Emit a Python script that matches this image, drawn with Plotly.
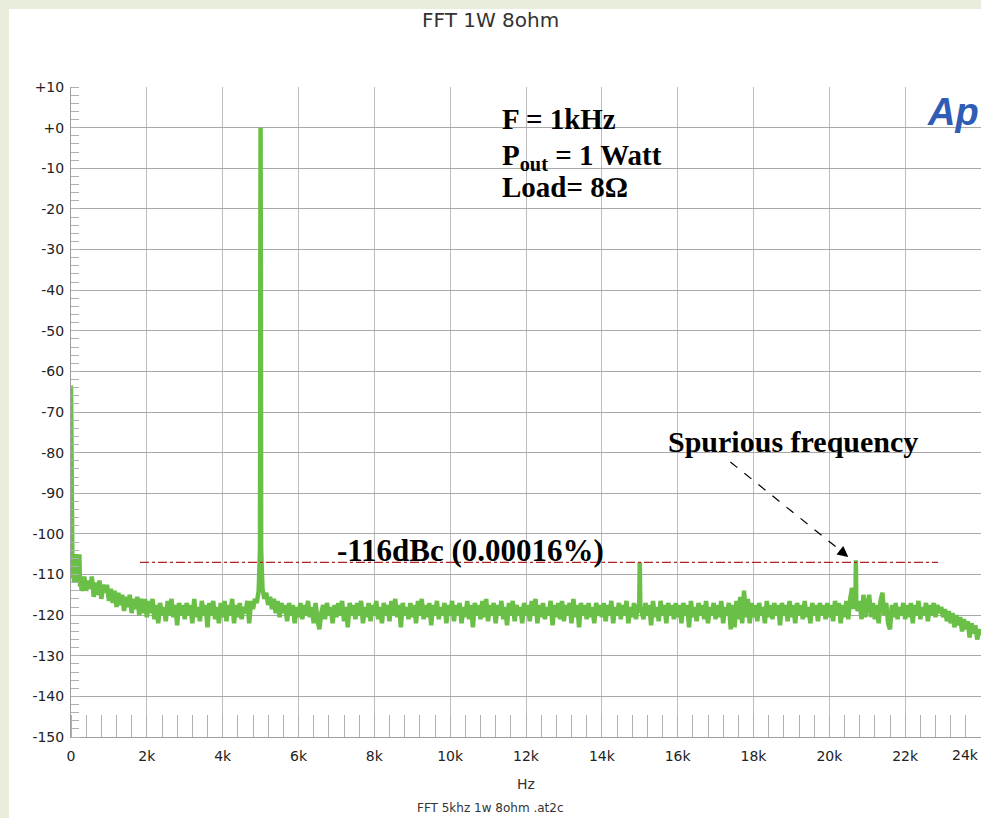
import plotly.graph_objects as go

# ---------------- data ----------------
# low-frequency region (Hz, dB)
lf_hz = [0, 8, 15, 25, 40, 60, 80, 100, 120, 140, 160, 180, 200, 220, 240, 260, 280]
lf_db = [-63.5, -85, -103, -106, -111, -105, -112, -106, -110, -105, -111, -106, -112, -105, -113, -111, -114]

# spectrum, 50 Hz bins, 300..950 Hz
head_db = [-113.5, -110.5, -114, -111.5, -113.5, -110.5, -115.5, -112, -115, -111.5, -116, -112.5, -114.5, -112.5]

# spectrum, 50 Hz bins, one row per kHz (row k starts at k*1000 Hz, k = 1..23)
rows_db = [
    [-116.5, -113.5, -117, -114, -118, -114.5, -117.5, -115, -119, -115.5, -118, -115, -119.5, -116, -118.5, -115.5, -120, -116, -119.5, -116],
    [-120.5, -116.5, -119.5, -116, -121, -117.5, -122, -117, -120, -118, -121.5, -116.5, -120, -116, -120.5, -117.5, -122.5, -117, -120, -117.5],
    [-121, -117, -120, -117.5, -122, -116, -120.5, -118, -121.5, -116.5, -120, -117.5, -123, -117, -120, -116.5, -121, -118, -122, -117],
    [-120.5, -116.5, -121.5, -117.5, -120, -116, -122, -117.5, -120.5, -117, -121, -118, -119.5, -116.5, -122, -116.5, -118.5, -116, -117, -114],
    [0.0, -113.5, -116, -114.5, -117.5, -115.5, -118.5, -116, -119.5, -116.5, -120.5, -117, -119.5, -117.5, -121.5, -117, -120, -117.5, -122, -118],
    [-120.5, -117, -121, -117.5, -120, -116.5, -120.5, -118, -122, -117, -121, -123.5, -119.5, -117.5, -121, -117, -120, -118, -122, -117.5],
    [-120.5, -117, -120, -116.5, -121.5, -118, -123, -117, -120, -117.5, -121, -117, -120, -116.5, -122, -118, -120.5, -117, -121.5, -117.5],
    [-120, -116.5, -121, -118, -122, -117, -120, -117.5, -121.5, -116.5, -120, -116, -120.5, -117.5, -123, -117, -120, -118, -121, -117],
    [-120.5, -117.5, -122, -116.5, -120, -116, -121, -117.5, -120.5, -117, -122.5, -117.5, -120, -116.5, -121, -118, -120, -117, -122, -117.5],
    [-120, -116.5, -121.5, -117.5, -120, -117, -122, -118, -120.5, -116.5, -121, -117.5, -123, -117, -120, -117.5, -121, -116.5, -120.5, -116],
    [-121.5, -117.5, -120, -117, -122, -117.5, -120, -116.5, -121, -118, -122.5, -117, -120, -116.5, -121.5, -117.5, -120, -118, -122, -117],
    [-120, -117.5, -121.5, -116.5, -120, -116, -122, -117.5, -120.5, -117, -121, -118, -120, -116.5, -122.5, -117.5, -120.5, -117, -121, -116.5],
    [-121.5, -117.5, -120, -117, -122, -116, -120.5, -117.5, -123, -117, -120, -117.5, -121, -117, -120.5, -118, -122, -117, -120, -117.5],
    [-120.5, -117, -121.5, -117.5, -120, -116.5, -122, -118, -120, -117, -121, -117.5, -120, -116.5, -122, -118, -120.5, -117, -121, -118],
    [-107, -119, -121, -117, -120, -117.5, -122.5, -116.5, -120.5, -118, -121.5, -116.5, -120, -117.5, -122, -117, -120, -117.5, -121, -117],
    [-120.5, -117.5, -122, -117, -120, -117.5, -123, -116.5, -120.5, -118, -121.5, -117, -120, -117.5, -121, -116.5, -122, -118, -120, -117],
    [-121, -117.5, -120.5, -116.5, -122, -118, -120, -117, -123.5, -117.5, -123, -116.5, -121, -115.5, -122, -114, -120.5, -116, -122, -117],
    [-120.5, -117.5, -121.5, -117, -120, -118, -122, -116.5, -120.5, -117.5, -121, -117, -120, -117.5, -122.5, -117, -120, -117.5, -121.5, -116.5],
    [-120.5, -117.5, -122, -117, -120, -117.5, -121, -116.5, -120.5, -118, -122, -117, -120, -117.5, -121.5, -117, -120, -117.5, -121, -117],
    [-120.5, -117.5, -121.5, -116.5, -120, -117, -122, -117.5, -120.5, -116.5, -121, -116, -113.3, -118.5, -106.5, -119, -116.5, -121, -115, -120.5],
    [-117.5, -115, -120.5, -117, -121, -117.5, -122, -116.5, -114.5, -120, -117, -122, -123.5, -117.5, -120.5, -117, -121, -118, -120, -117],
    [-121, -117.5, -120.5, -117, -122, -117.5, -120, -116.5, -121, -118, -120, -117, -121.5, -117.5, -120, -117, -120.5, -117.5, -119.5, -118],
    [-120.5, -118.5, -121.5, -119, -122, -119.5, -123, -120, -122.5, -120.5, -124, -121, -123.5, -121.5, -125.5, -122, -124.5, -122.5, -126, -123.5],
]
end_hz, end_db = 24000, -125

# extra fine points around the narrow tones (Hz, dB)
detail_hz = [4975, 4985, 4992, 5008, 5015, 5025, 14985, 15015, 20690, 20710]
detail_db = [-108, -104, -40, -40, -104, -108, -118, -118, -115, -116.5]

# reference line level / extent
ref_level_db = -107
ref_start_hz = 1820
ref_end_hz = 22870

x_tick_vals = [0, 2000, 4000, 6000, 8000, 10000, 12000, 14000, 16000, 18000, 20000, 22000]
x_tick_text = ["0", "2k", "4k", "6k", "8k", "10k", "12k", "14k", "16k", "18k", "20k", "22k"]
y_tick_vals = list(range(10, -151, -10))
y_tick_text = ["+10", "+0"] + [str(v) for v in range(-10, -151, -10)]

# ---------------- build trace ----------------
xs, ys = list(lf_hz), list(lf_db)
for i, v in enumerate(head_db):
    xs.append(300 + 50 * i); ys.append(v)
for k, row in enumerate(rows_db, start=1):
    for j, v in enumerate(row):
        xs.append(1000 * k + 50 * j); ys.append(v)
xs.append(end_hz); ys.append(end_db)
xs += detail_hz; ys += detail_db
pts = sorted(zip(xs, ys))
freq = [p[0] for p in pts]
level = [p[1] for p in pts]

W, H = 981, 818
ML, MR, MT, MB = 71, 0, 87, 81
PW, PH = W - ML - MR, H - MT - MB

def px(xp):
    return (xp - ML) / PW

def py(yp):
    return (H - MB - yp) / PH

fig = go.Figure()
fig.add_trace(go.Scatter(
    x=freq, y=level, mode="lines",
    line=dict(color="#6abf47", width=4.5),
    hoverinfo="skip", showlegend=False,
))

sans = "DejaVu Sans, Verdana, sans-serif"
tickfont = dict(family=sans, size=14, color="#222")

fig.update_xaxes(
    range=[0, 24000], tickvals=x_tick_vals, ticktext=x_tick_text,
    showgrid=True, gridcolor="#bcbcbc", gridwidth=1,
    ticks="", tickfont=tickfont, ticklabelstandoff=6,
    showline=True, linecolor="#a0a0a0", linewidth=1,
    zeroline=False,
    minor=dict(dtick=400, tick0=0, ticks="inside", ticklen=22, tickcolor="#b0b0b0", tickwidth=1, showgrid=False),
)
fig.update_yaxes(
    range=[-150, 10], tickvals=y_tick_vals, ticktext=y_tick_text,
    showgrid=True, gridcolor="#a8a8a8", gridwidth=1,
    ticks="", tickfont=tickfont, ticklabelstandoff=3,
    showline=True, linecolor="#a0a0a0", linewidth=1,
    zeroline=False,
    minor=dict(dtick=2, tick0=0, ticks="inside", ticklen=8, tickcolor="#b0b0b0", tickwidth=1, showgrid=False),
)

shapes = [
    dict(type="rect", xref="paper", yref="paper", layer="below",
         x0=px(9), x1=1.05, y0=py(830), y1=py(9),
         fillcolor="white", line=dict(width=0)),
    dict(type="line", xref="x", yref="y", x0=ref_start_hz, x1=ref_end_hz,
         y0=ref_level_db, y1=ref_level_db,
         line=dict(color="#b22222", width=1.2, dash="dashdot")),
    dict(type="line", xref="x", yref="y", x0=17390, y0=-82.3, x1=20400, y1=-104.9,
         line=dict(color="black", width=1.2, dash="dash")),
]

serif = "Liberation Serif, Times New Roman, serif"
serif_b = dict(family=serif, size=29, color="black")
ann = [
    dict(text="FFT 1W 8ohm", xref="paper", yref="paper", x=px(490), y=py(20),
         xanchor="center", yanchor="middle", showarrow=False,
         font=dict(family=sans, size=20, color="#333")),
    dict(text="Hz", xref="paper", yref="paper", x=px(526), y=py(784),
         xanchor="center", yanchor="middle", showarrow=False,
         font=dict(family=sans, size=14, color="#333")),
    dict(text="FFT 5khz 1w 8ohm .at2c", xref="paper", yref="paper", x=px(490), y=py(808),
         xanchor="center", yanchor="middle", showarrow=False,
         font=dict(family=sans, size=12, color="#333")),
    dict(text="24k", xref="paper", yref="paper", x=px(965), y=py(755),
         xanchor="center", yanchor="middle", showarrow=False, font=tickfont),
    dict(text="<b><i>Ap</i></b>", xref="paper", yref="paper", x=px(953), y=py(112),
         xanchor="center", yanchor="middle", showarrow=False,
         font=dict(family="Liberation Sans, Arial, sans-serif", size=38, color="#2f5db5")),
    dict(text="<b>F = 1kHz</b>", xref="paper", yref="paper", x=px(500), y=py(119),
         xanchor="left", yanchor="middle", showarrow=False, font=serif_b),
    dict(text="<b>P<sub>out</sub> = 1 Watt</b>", xref="paper", yref="paper", x=px(500), y=py(157),
         xanchor="left", yanchor="middle", showarrow=False, font=serif_b),
    dict(text="<b>Load= 8Ω</b>", xref="paper", yref="paper", x=px(500), y=py(187),
         xanchor="left", yanchor="middle", showarrow=False, font=serif_b),
    dict(text="<b>Spurious frequency</b>", xref="paper", yref="paper", x=px(666), y=py(441),
         xanchor="left", yanchor="middle", showarrow=False,
         font=dict(family=serif, size=30, color="black")),
    dict(text="<b>-116dBc (0.00016%)</b>", xref="paper", yref="paper", x=px(335), y=py(550),
         xanchor="left", yanchor="middle", showarrow=False,
         font=dict(family=serif, size=31, color="black")),
    dict(text="", xref="x", yref="y", x=20500, y=-105.7, axref="x", ayref="y",
         ax=20300, ay=-104.2, showarrow=True, arrowhead=2, arrowsize=1.8,
         arrowwidth=1.2, arrowcolor="black"),
]

fig.update_layout(
    width=W, height=H,
    margin=dict(l=ML, r=MR, t=MT, b=MB, autoexpand=False),
    paper_bgcolor="#e8eedb", plot_bgcolor="white",
    shapes=shapes, annotations=ann, showlegend=False,
)

fig.write_html(
    "out.html",
    config={"displayModeBar": False},
    post_script="document.body.style.margin='0';document.body.style.overflow='hidden';",
)
